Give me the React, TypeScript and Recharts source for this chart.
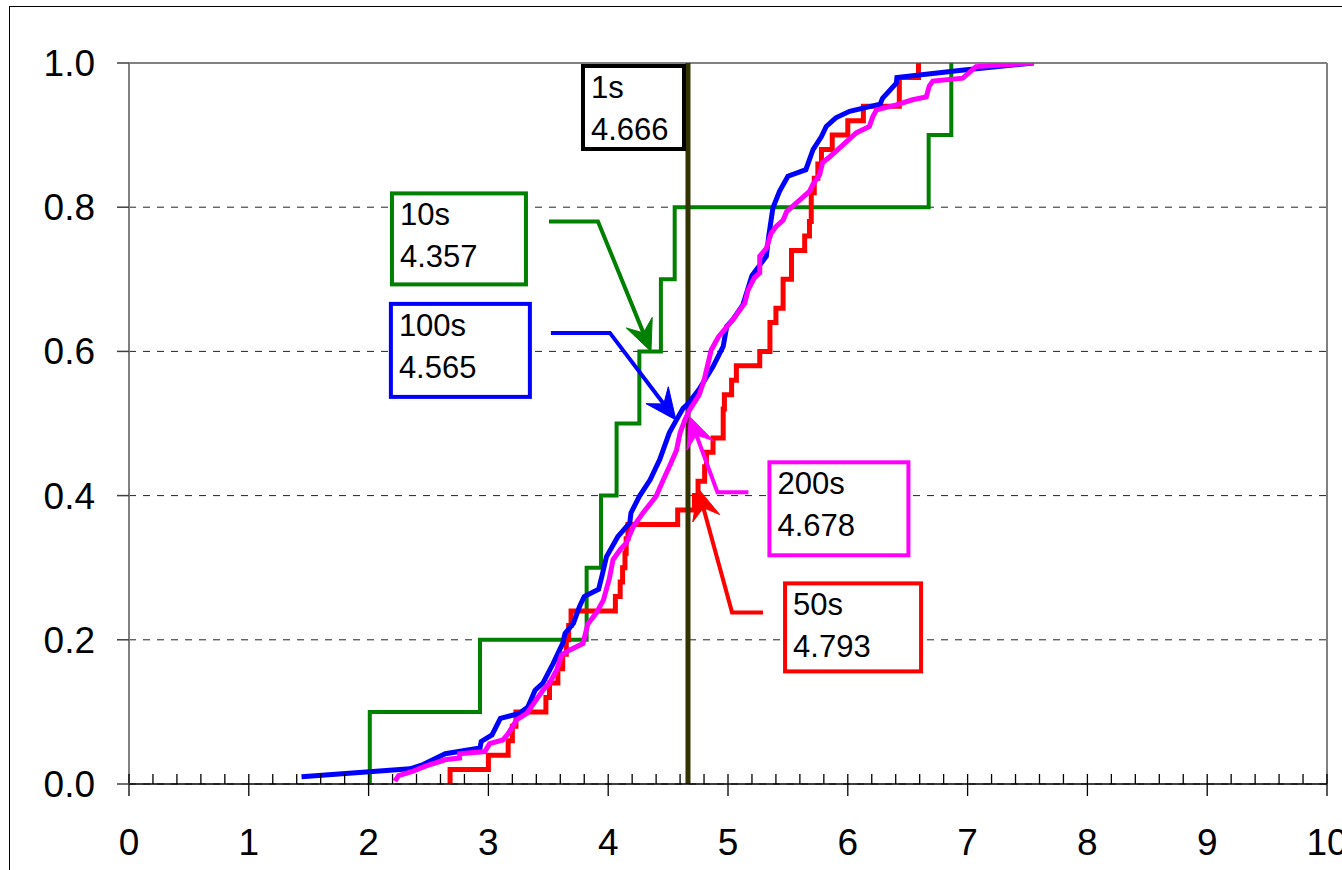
import React from 'react';
import { LineChart, Line, XAxis, YAxis, CartesianGrid, ReferenceLine, ReferenceDot } from 'recharts';

const FONT = '"Liberation Sans", Arial, Helvetica, sans-serif';

// ---- axis ticks ----
const xTicks = [0, 0.2, 0.4, 0.6, 0.8, 1, 1.2, 1.4, 1.6, 1.8, 2, 2.2, 2.4, 2.6, 2.8, 3, 3.2, 3.4, 3.6, 3.8, 4, 4.2, 4.4, 4.6, 4.8, 5, 5.2, 5.4, 5.6, 5.8, 6, 6.2, 6.4, 6.6, 6.8, 7, 7.2, 7.4, 7.6, 7.8, 8, 8.2, 8.4, 8.6, 8.8, 9, 9.2, 9.4, 9.6, 9.8, 10];
const xMajorLabels = ['0', '1', '2', '3', '4', '5', '6', '7', '8', '9', '10'];
const yTicks = [0, 0.2, 0.4, 0.6, 0.8, 1];
const yTickLabels = ['0.0', '0.2', '0.4', '0.6', '0.8', '1.0'];

// ---- series: 1s (single value) ----
const oneSX = [4.666, 4.666];
const oneSY = [0, 1];

// ---- series: 10s (step CDF) ----
const tenSX = [2.01, 2.01, 2.93, 3.82, 3.94, 4.07, 4.26, 4.44, 4.555, 6.675, 6.864];
const tenSY = [0, 0.1, 0.2, 0.3, 0.4, 0.5, 0.6, 0.7, 0.8, 0.9, 1.0];

// ---- series: 50s (step CDF) ----
const fiftySX = [2.68, 2.68, 3.0, 3.165, 3.2, 3.23, 3.48, 3.51, 3.58, 3.62, 3.65, 3.67, 3.69, 4.06, 4.1, 4.12, 4.14, 4.15, 4.165, 4.58, 4.72, 4.75, 4.805, 4.82, 4.875, 4.96, 4.97, 5.03, 5.07, 5.265, 5.35, 5.4, 5.46, 5.53, 5.64, 5.68, 5.695, 5.72, 5.75, 5.78, 5.87, 6.0, 6.13, 6.43, 6.59];
const fiftySY = [0, 0.02, 0.04, 0.06, 0.08, 0.1, 0.12, 0.14, 0.16, 0.18, 0.2, 0.22, 0.24, 0.26, 0.28, 0.3, 0.32, 0.34, 0.36, 0.38, 0.4, 0.42, 0.44, 0.46, 0.48, 0.52, 0.54, 0.56, 0.58, 0.6, 0.64, 0.66, 0.7, 0.74, 0.76, 0.78, 0.82, 0.84, 0.86, 0.88, 0.9, 0.92, 0.94, 0.98, 1.0];

// ---- series: 100s ----
const hundredSX = [1.44, 2.345, 2.455, 2.64, 2.93, 2.94, 3.03, 3.1, 3.26, 3.33, 3.39, 3.455, 3.54, 3.62, 3.64, 3.71, 3.76, 3.8, 3.92, 3.95, 3.985, 4.08, 4.18, 4.19, 4.26, 4.35, 4.43, 4.51, 4.57, 4.625, 4.67, 4.765, 4.875, 4.96, 4.99, 5.04, 5.125, 5.2, 5.32, 5.34, 5.375, 5.43, 5.5, 5.65, 5.71, 5.78, 5.82, 5.9, 6.015, 6.27, 6.29, 6.405, 6.41, 6.95, 7.55];
const hundredSY = [0.01, 0.021, 0.027, 0.042, 0.05, 0.059, 0.068, 0.091, 0.098, 0.107, 0.13, 0.14, 0.167, 0.195, 0.209, 0.223, 0.246, 0.26, 0.27, 0.29, 0.315, 0.343, 0.362, 0.376, 0.399, 0.422, 0.45, 0.487, 0.505, 0.521, 0.528, 0.549, 0.579, 0.607, 0.635, 0.644, 0.665, 0.705, 0.732, 0.76, 0.799, 0.822, 0.843, 0.852, 0.88, 0.898, 0.912, 0.924, 0.933, 0.943, 0.951, 0.972, 0.98, 0.99, 1.0];

// ---- series: 200s ----
const twoHundredSX = [2.22, 2.25, 2.36, 2.48, 2.65, 2.76, 2.76, 2.97, 3.01, 3.12, 3.165, 3.21, 3.235, 3.32, 3.4, 3.455, 3.51, 3.57, 3.61, 3.68, 3.79, 3.83, 3.9, 3.96, 4.01, 4.04, 4.1, 4.15, 4.21, 4.29, 4.4, 4.46, 4.51, 4.57, 4.6, 4.64, 4.68, 4.76, 4.8, 4.86, 4.92, 5.04, 5.14, 5.167, 5.22, 5.265, 5.265, 5.32, 5.36, 5.4, 5.46, 5.49, 5.6, 5.68, 5.71, 5.765, 5.79, 5.85, 5.93, 6.07, 6.18, 6.21, 6.24, 6.405, 6.54, 6.655, 6.68, 6.71, 6.96, 7.07, 7.55];
const twoHundredSY = [0.004, 0.0115, 0.017, 0.025, 0.034, 0.036, 0.042, 0.045, 0.056, 0.061, 0.07, 0.082, 0.089, 0.098, 0.117, 0.13, 0.14, 0.158, 0.179, 0.186, 0.195, 0.222, 0.237, 0.255, 0.285, 0.311, 0.325, 0.334, 0.357, 0.376, 0.399, 0.422, 0.44, 0.463, 0.487, 0.505, 0.519, 0.54, 0.56, 0.602, 0.62, 0.644, 0.667, 0.685, 0.702, 0.709, 0.732, 0.743, 0.764, 0.773, 0.782, 0.794, 0.81, 0.822, 0.832, 0.845, 0.862, 0.87, 0.882, 0.903, 0.912, 0.926, 0.935, 0.942, 0.949, 0.953, 0.968, 0.975, 0.979, 0.995, 1.0];

// ---- callout texts ----
const seriesNames = ['1s', '10s', '50s', '100s', '200s'];
const seriesMeans = ['4.666', '4.357', '4.793', '4.565', '4.678'];
const seriesColors = ['#333300', '#008000', '#FF0000', '#0000FF', '#FF00FF'];
// where each callout arrow points (data coordinates)
const calloutTipX = [4.666, 4.357, 4.75, 4.565, 4.678];
const calloutTipY = [1.0, 0.6, 0.41, 0.505, 0.51];

const toPoints = (xs: number[], ys: number[]) => xs.map((x, i) => ({ x, y: ys[i] }));

// layout of callouts (pixel offsets relative to the arrow tip)
const calloutLayout = [
  { path: [] as number[][], box: [-105, 3, 101, 83] },
  { path: [[-102, -130], [-53, -130]], box: [-259, -158, 134, 91] },
  { path: [[65, 124], [34, 124]], box: [87, 95, 136, 88] },
  { path: [[-125, -87], [-66, -87]], box: [-285, -116, 139, 93] },
  { path: [[59, 76], [28, 76]], box: [80, 46, 139, 93] },
];

const makeCallout = (idx: number) => (props: any) => {
  const { cx, cy } = props;
  if (cx == null || cy == null) return <g />;
  const lay = calloutLayout[idx];
  const color = seriesColors[idx];
  const [bdx, bdy, bw, bh] = lay.box;
  const bx = cx + bdx;
  const by = cy + bdy;
  let arrow: any = null;
  if (lay.path.length) {
    const pts = lay.path.map(([dx, dy]) => [cx + dx, cy + dy]);
    const prev = pts[pts.length - 1];
    const vx = cx - prev[0];
    const vy = cy - prev[1];
    const len = Math.sqrt(vx * vx + vy * vy);
    const ux = vx / len;
    const uy = vy / len;
    const nx = -uy;
    const ny = ux;
    const L = 31;
    const W = 14;
    const notch = 20;
    const nP = [cx - notch * ux, cy - notch * uy];
    const shaft = [...pts, nP].map((p) => p.join(',')).join(' ');
    const head = [
      [cx, cy],
      [cx - L * ux + W * nx, cy - L * uy + W * ny],
      nP,
      [cx - L * ux - W * nx, cy - L * uy - W * ny],
    ]
      .map((p) => p.join(','))
      .join(' ');
    arrow = (
      <g>
        <polyline points={shaft} fill="none" stroke={color} strokeWidth={4} strokeLinejoin="miter" />
        <polygon points={head} fill={color} stroke={color} strokeWidth={1} />
      </g>
    );
  }
  return (
    <g>
      {arrow}
      <rect x={bx} y={by} width={bw} height={bh} fill="#FFFFFF" stroke={idx === 0 ? '#000000' : color} strokeWidth={4} />
      <text x={bx + 8} y={by + 32} fontSize={31} fontFamily={FONT} fill="#000">
        {seriesNames[idx]}
      </text>
      <text x={bx + 8} y={by + 74} fontSize={31} fontFamily={FONT} fill="#000">
        {seriesMeans[idx]}
      </text>
    </g>
  );
};

const XTick = (props: any) => {
  const { x, y, payload } = props;
  const v = payload.value as number;
  const r = Math.round(v);
  const major = Math.abs(v - r) < 1e-6;
  return (
    <g>
      <line x1={x} x2={x} y1={y - 10} y2={major ? y + 12 : y} stroke="#000" strokeWidth={1.3} />
      {major && (
        <text x={x} y={y + 71} textAnchor="middle" fontSize={37} fontFamily={FONT} fill="#000">
          {xMajorLabels[r]}
        </text>
      )}
    </g>
  );
};

const YTick = (props: any) => {
  const { x, y, payload, index } = props;
  const i = yTicks.indexOf(payload.value);
  return (
    <g>
      <line x1={x - 12} x2={x} y1={y} y2={y} stroke="#404040" strokeWidth={1.5} />
      <text x={x - 34} y={y + 13} textAnchor="end" fontSize={37} fontFamily={FONT} fill="#000">
        {yTickLabels[i >= 0 ? i : index]}
      </text>
    </g>
  );
};

const seriesData = [
  toPoints(oneSX, oneSY),
  toPoints(tenSX, tenSY),
  toPoints(fiftySX, fiftySY),
  toPoints(hundredSX, hundredSY),
  toPoints(twoHundredSX, twoHundredSY),
];

export default function App() {
  return (
    <div style={{ position: 'absolute', left: 0, top: 0, width: 1342, height: 870, overflow: 'hidden', background: '#fff' }}>
      <div
        style={{
          position: 'absolute',
          left: 9,
          top: 6,
          width: 1360,
          height: 900,
          border: '1.5px solid #000',
          boxSizing: 'border-box',
        }}
      />
      <div style={{ position: 'absolute', left: 0, top: 0 }}>
        <LineChart width={1342} height={870} margin={{ top: 63, right: 15, bottom: 0, left: 0 }}>
          <CartesianGrid vertical={false} stroke="#222" strokeDasharray="7 7" strokeWidth={1} />
          <XAxis
            type="number"
            dataKey="x"
            domain={[0, 10]}
            ticks={xTicks}
            interval={0}
            tick={XTick}
            tickLine={false}
            tickSize={0}
            tickMargin={0}
            axisLine={{ stroke: '#000', strokeWidth: 1.5 }}
            height={86}
            allowDataOverflow
          />
          <YAxis
            type="number"
            dataKey="y"
            domain={[0, 1]}
            ticks={yTicks}
            interval={0}
            tick={YTick}
            tickLine={false}
            tickSize={0}
            tickMargin={0}
            axisLine={{ stroke: '#808080', strokeWidth: 2 }}
            width={129}
            allowDataOverflow
          />
          <ReferenceLine y={1} stroke="#808080" strokeWidth={2} />
          <ReferenceLine x={10} stroke="#808080" strokeWidth={2} />
          <Line data={seriesData[1]} dataKey="y" type="stepAfter" stroke={seriesColors[1]} strokeWidth={4} dot={false} activeDot={false} isAnimationActive={false} />
          <Line data={seriesData[2]} dataKey="y" type="stepAfter" stroke={seriesColors[2]} strokeWidth={5} dot={false} activeDot={false} isAnimationActive={false} />
          <Line data={seriesData[0]} dataKey="y" type="linear" stroke={seriesColors[0]} strokeWidth={5} dot={false} activeDot={false} isAnimationActive={false} />
          <Line data={seriesData[3]} dataKey="y" type="linear" stroke={seriesColors[3]} strokeWidth={5} dot={false} activeDot={false} isAnimationActive={false} />
          <Line data={seriesData[4]} dataKey="y" type="linear" stroke={seriesColors[4]} strokeWidth={5} dot={false} activeDot={false} isAnimationActive={false} />
          {seriesNames.map((n, i) => (
            <ReferenceDot key={n} x={calloutTipX[i]} y={calloutTipY[i]} r={0} ifOverflow="visible" shape={makeCallout(i)} />
          ))}
        </LineChart>
      </div>
    </div>
  );
}
